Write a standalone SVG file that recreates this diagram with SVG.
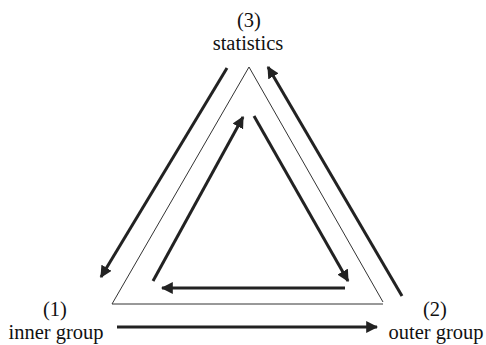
<svg xmlns="http://www.w3.org/2000/svg" width="486" height="345" viewBox="0 0 486 345">
<defs>
<marker id="ah" viewBox="0 0 10 10" refX="9" refY="5" markerWidth="4" markerHeight="4" orient="auto" markerUnits="strokeWidth">
<path d="M0,0 L10,5 L0,10 z" fill="#222"/>
</marker>
<style>
.lbl{font-family:'Liberation Serif','DejaVu Serif',serif;font-size:20.5px;fill:#111;text-anchor:middle}
.arr{stroke:#222;stroke-width:3;fill:none;marker-end:url(#ah)}
.tri{stroke:#333;stroke-width:1;fill:none}
</style>
</defs>
<rect width="486" height="345" fill="#fff"/>
<g id="triangle"><path class="tri" d="M249,67 L383,302 M383,304 L112,304 L249,67"/></g>
<g id="n3"><text class="lbl" x="249" y="27">(3)</text><text class="lbl" x="248" y="50">statistics</text></g>
<g id="n1"><text class="lbl" x="55" y="316">(1)</text><text class="lbl" x="56" y="339">inner group</text></g>
<g id="n2"><text class="lbl" x="435" y="316">(2)</text><text class="lbl" x="436" y="339">outer group</text></g>
<g id="connectors">
<line class="arr" x1="227" y1="68" x2="101" y2="277"/>
<line class="arr" x1="402" y1="296" x2="268" y2="67"/>
<line class="arr" x1="153" y1="281" x2="243" y2="117"/>
<line class="arr" x1="254" y1="116" x2="348" y2="281"/>
<line class="arr" x1="345" y1="288" x2="162" y2="288"/>
<line class="arr" x1="117" y1="327" x2="377" y2="327"/>
</g>
</svg>
